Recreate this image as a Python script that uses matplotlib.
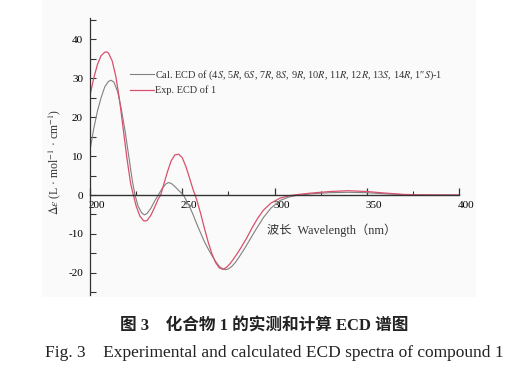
import matplotlib
matplotlib.use("Agg")
import matplotlib.pyplot as plt
from matplotlib.patches import Rectangle
from matplotlib.transforms import ScaledTranslation

plt.rcParams['mathtext.fontset'] = 'stix'
plt.rcParams['axes.unicode_minus'] = False
plt.rcParams['font.family'] = ['Liberation Serif', 'Noto Sans CJK SC']

# Experimental ECD (red)
exp_wl = [200, 202, 204, 206, 208, 209, 210, 212, 214, 216, 218, 220, 222, 223.5, 225, 227, 229, 230, 231,
          233, 235, 237, 238.3, 240, 242, 244, 246, 248, 250, 252, 254, 256, 257, 258, 260, 262, 264, 266,
          268, 270, 272, 274, 276, 278, 280, 282, 285, 288, 291, 294, 298, 303, 308, 312, 320, 330, 340,
          350, 360, 370, 380, 390, 400]
exp_de = [25.6, 30.0, 33.5, 35.8, 36.7, 36.8, 36.5, 34.5, 30.5, 24.5, 17.0, 9.5, 3.0, 0.0, -2.8, -5.4, -6.6,
          -6.7, -6.5, -5.2, -3.2, -1.0, 0.0, 2.8, 6.0, 8.8, 10.3, 10.5, 9.6, 7.3, 4.3, 1.2, 0.0, -1.5, -4.8,
          -8.5, -12.0, -15.0, -17.3, -18.7, -19.1, -18.6, -17.6, -16.3, -14.9, -13.4, -11.0, -8.3, -5.9,
          -3.9, -2.1, -0.8, -0.2, 0.1, 0.5, 0.9, 1.1, 0.9, 0.5, 0.15, 0.05, 0.0, 0.0]

# Calculated ECD (gray)
cal_wl = [200, 202, 204, 206, 208, 210, 211.5, 213, 215, 217, 219, 221, 223, 224.4, 226, 228, 229.5, 231,
          233, 235, 237, 239, 241, 242.5, 244, 246, 248, 250.6, 252, 254, 256, 258, 260, 262, 264, 266, 268,
          270, 272, 273.5, 275, 277, 279, 281, 284, 287, 290, 294, 298, 303, 308, 312, 320, 330, 340, 350,
          360, 370, 380, 400]
cal_de = [11.5, 17.0, 21.5, 25.0, 27.8, 29.2, 29.5, 29.0, 26.5, 22.0, 16.5, 10.0, 3.5, 0.0, -2.8, -4.6, -5.1,
          -4.7, -3.4, -1.6, 0.0, 1.6, 2.8, 3.2, 3.0, 2.2, 1.2, 0.0, -1.2, -3.0, -5.2, -7.6, -9.8, -12.0,
          -13.8, -15.5, -17.0, -18.3, -19.0, -19.2, -19.0, -18.3, -17.2, -15.8, -13.6, -11.2, -8.8, -5.8,
          -3.4, -1.4, -0.5, -0.1, 0.3, 0.6, 0.7, 0.6, 0.3, 0.1, 0.03, 0.0]

x_ticks = [200, 250, 300, 350, 400]
x_minor = [225, 275, 325, 375]
y_ticks = [-20, -10, 0, 10, 20, 30, 40]
y_minor = [-25, -15, -5, 5, 15, 25, 35, 45]

cal_label = (r"Cal. ECD of (4$\it{S}$, 5$\it{R}$, 6$\it{S}$, 7$\it{R}$, 8$\it{S}$, 9$\it{R}$, "
             r"10$\it{R}$, 11$\it{R}$, 12$\it{R}$, 13$\it{S}$, 14$\it{R}$, 1″$\it{S}$)-1")
exp_label = "Exp. ECD of 1"

W, H = 531, 377
fig = plt.figure(figsize=(W / 100, H / 100), dpi=100)
fig.patch.set_facecolor('white')
fig.patches.append(Rectangle((42 / W, 1 - 297 / H), (476 - 42) / W, 297 / H,
                             transform=fig.transFigure, facecolor='#fafafa', edgecolor='none', zorder=-5))

ax = fig.add_axes([90 / W, 1 - 295 / H, (459 - 90) / W, (295 - 18) / H])
ax.set_zorder(2)
ax.set_facecolor('none')

ax.plot(cal_wl, cal_de, color='#808080', lw=0.8, label=cal_label)
ax.plot(exp_wl, exp_de, color='#d8506e', lw=0.9, label=exp_label)

ax.set_xlim(200, 400)
ax.set_ylim(-25.7, 45.5)

for s in ['top', 'right']:
    ax.spines[s].set_visible(False)
ax.spines['bottom'].set_position(('data', 0))
ax.spines['bottom'].set_color('#333333')
ax.spines['left'].set_color('#333333')
ax.spines['bottom'].set_linewidth(1.0)
ax.spines['left'].set_linewidth(0.9)

ax.set_xticks(x_ticks)
ax.set_xticks(x_minor, minor=True)
ax.set_yticks(y_ticks)
ax.set_yticks(y_minor, minor=True)
ax.tick_params(axis='x', which='major', direction='in', length=5, width=0.9, color='#333333',
               labelsize=8, pad=4)
ax.tick_params(axis='x', which='minor', direction='in', length=3, width=0.8, color='#333333')
ax.tick_params(axis='y', which='both', direction='in', length=4, width=0.8, color='#333333',
               labelsize=8, pad=5)
for lab in ax.get_xticklabels():
    lab.set_transform(lab.get_transform() + ScaledTranslation(5 / 72, 0, fig.dpi_scale_trans))

fig.text(55 / W, 1 - 162 / H, r"$\Delta\varepsilon$ (L · mol$^{-1}$ · cm$^{-1}$)", fontsize=8.5,
         rotation=90, ha='center', va='center', color='#333333')

fig.text(332 / W, 1 - 230 / H, "波长  Wavelength（nm）", fontsize=8.8, ha='center', va='center',
         color='#333333')

leg = ax.legend(loc='upper left', bbox_to_anchor=(130 / W, 1 - 68 / H), bbox_transform=fig.transFigure,
                frameon=False, fontsize=7.4, handlelength=2.3, handletextpad=0.15, labelspacing=0.4,
                borderpad=0, borderaxespad=0)
for t in leg.get_texts():
    t.set_color('#333333')

fig.text(264 / W, 1 - 327 / H, "图 3    化合物 1 的实测和计算 ECD 谱图", fontsize=12, fontweight='bold',
         ha='center', va='center', color='#222222')
fig.text(45 / W, 1 - 353 / H, "Fig. 3    Experimental and calculated ECD spectra of compound 1",
         fontsize=12.5, ha='left', va='center', color='#222222')

fig.savefig("out.png", dpi=100)
